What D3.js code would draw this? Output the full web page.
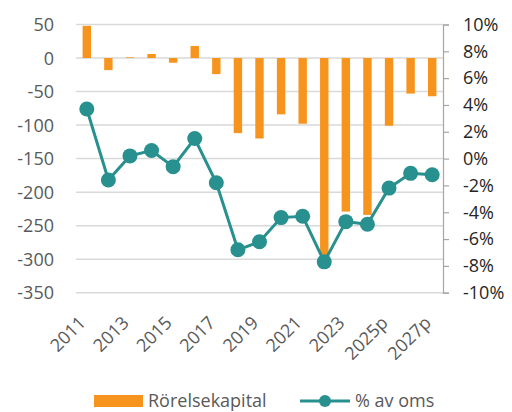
<!DOCTYPE html>
<html>
<head>
<meta charset="utf-8">
<script src="https://cdn.jsdelivr.net/npm/d3@7"></script>
<style>
    body { margin: 0; background: #fff; }
    text { font-family: "Open Sans", sans-serif; }
</style>
</head>
<body>
<div class="chart"></div>
<script>
// data
const years = ["2011", "2012", "2013", "2014", "2015", "2016", "2017", "2018", "2019",
    "2020", "2021", "2022", "2023", "2024", "2025p", "2026p", "2027p"];
const rorelsekapital = [48, -18, 1, 6, -7, 18, -24, -112, -120, -84, -98, -300, -229, -234, -101, -53, -57];
const pctOms = [3.7, -1.6, 0.2, 0.6, -0.6, 1.5, -1.8, -6.8, -6.2, -4.4, -4.3, -7.7, -4.7, -4.9, -2.2, -1.1, -1.2];
const leftTicks = [50, 0, -50, -100, -150, -200, -250, -300, -350];
const rightTicks = [10, 8, 6, 4, 2, 0, -2, -4, -6, -8, -10];
const legendLabels = ["Rörelsekapital", "% av oms"];

const width = 512, height = 412;
const orange = "#f7941d", teal = "#28908f";

let svg = d3.select(".chart")
    .append("svg")
    .attr("width", width)
    .attr("height", height);

let x = d3.scaleBand()
    .domain(years)
    .range([76, 443])
    .padding(0);

let yL = d3.scaleLinear()
    .domain([-350, 50])
    .range([292.7, 24.5]);

let yR = d3.scaleLinear()
    .domain([-10, 10])
    .range([292.7, 24.5]);

// gridlines
svg.append("g")
    .selectAll("line")
    .data(leftTicks)
    .enter()
    .append("line")
    .attr("x1", 76)
    .attr("x2", 443)
    .attr("y1", d => yL(d))
    .attr("y2", d => yL(d))
    .attr("stroke", "#d9d9d9")
    .attr("stroke-width", 1.5);

// left axis labels
svg.append("g")
    .selectAll("text")
    .data(leftTicks)
    .enter()
    .append("text")
    .attr("x", 54)
    .attr("y", d => yL(d))
    .attr("dy", "0.36em")
    .attr("text-anchor", "end")
    .attr("font-size", 18)
    .attr("fill", "#595959")
    .text(d => d);

// right axis
let rAxis = svg.append("g")
    .attr("transform", "translate(443,0)")
    .call(d3.axisRight(yR).tickValues(rightTicks).tickSize(6).tickFormat(d => d + "%"));
rAxis.select(".domain").attr("stroke", "#a6a6a6").attr("stroke-width", 1.2);
rAxis.selectAll(".tick line").attr("stroke", "#a6a6a6").attr("stroke-width", 1.2);
rAxis.selectAll(".tick text")
    .attr("x", 20)
    .attr("font-size", 18)
    .attr("font-family", "'Open Sans', sans-serif")
    .attr("fill", "#262626");

// bars
let barW = 8.4;
svg.append("g")
    .selectAll("rect")
    .data(rorelsekapital)
    .enter()
    .append("rect")
    .attr("x", (d, i) => x(years[i]) + x.bandwidth() / 2 - barW / 2)
    .attr("y", d => yL(Math.max(d, 0)))
    .attr("width", barW)
    .attr("height", d => Math.abs(yL(d) - yL(0)))
    .attr("fill", orange);

// line
let line = d3.line()
    .x((d, i) => x(years[i]) + x.bandwidth() / 2)
    .y(d => yR(d));

svg.append("path")
    .datum(pctOms)
    .attr("d", line)
    .attr("fill", "none")
    .attr("stroke", teal)
    .attr("stroke-width", 3);

svg.append("g")
    .selectAll("circle")
    .data(pctOms)
    .enter()
    .append("circle")
    .attr("cx", (d, i) => x(years[i]) + x.bandwidth() / 2)
    .attr("cy", d => yR(d))
    .attr("r", 7.5)
    .attr("fill", teal);

// x labels, every other year
svg.append("g")
    .selectAll("text")
    .data(years.filter((d, i) => i % 2 == 0))
    .enter()
    .append("text")
    .attr("transform", d => "translate(" + (x(d) + x.bandwidth() / 2) + ",324)rotate(-45)")
    .attr("text-anchor", "end")
    .attr("font-size", 18)
    .attr("fill", "#595959")
    .text(d => d);

// legend
let legend = svg.append("g");
legend.append("rect")
    .attr("x", 94)
    .attr("y", 395)
    .attr("width", 49)
    .attr("height", 12)
    .attr("fill", orange);
legend.append("text")
    .attr("x", 148)
    .attr("y", 407)
    .attr("font-size", 18)
    .attr("fill", "#595959")
    .text(legendLabels[0]);
legend.append("line")
    .attr("x1", 300)
    .attr("x2", 350)
    .attr("y1", 401)
    .attr("y2", 401)
    .attr("stroke", teal)
    .attr("stroke-width", 3);
legend.append("circle")
    .attr("cx", 325)
    .attr("cy", 401)
    .attr("r", 6)
    .attr("fill", teal);
legend.append("text")
    .attr("x", 355)
    .attr("y", 407)
    .attr("font-size", 18)
    .attr("fill", "#595959")
    .text(legendLabels[1]);
</script>
</body>
</html>
